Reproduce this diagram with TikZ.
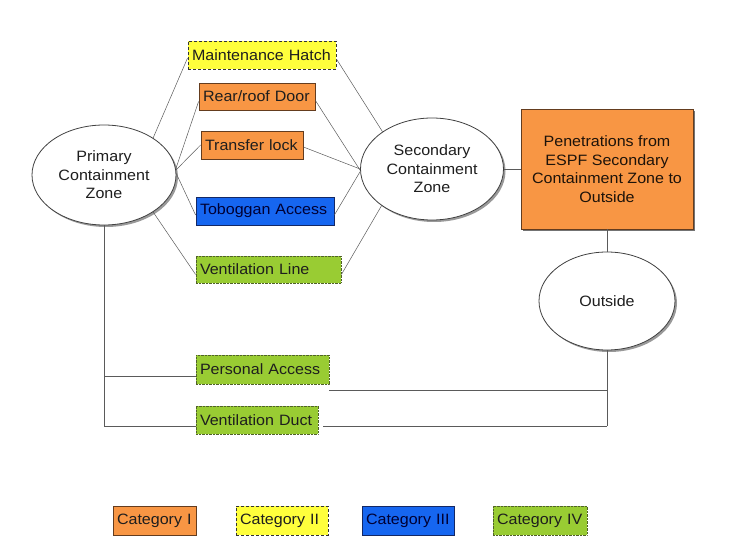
\documentclass[tikz,border=0pt]{standalone}
\usepackage{fontspec}
\setmainfont{Liberation Sans}[FakeStretch=1.07]
\usetikzlibrary{shapes.geometric}
\definecolor{orfill}{RGB}{248,150,68}
\definecolor{ordraw}{RGB}{100,60,30}
\definecolor{yefill}{RGB}{255,255,60}
\definecolor{blfill}{RGB}{22,102,240}
\definecolor{bldraw}{RGB}{20,40,100}
\definecolor{grfill}{RGB}{153,204,51}
\definecolor{grdraw}{RGB}{80,98,40}
\definecolor{txt}{RGB}{30,30,30}
\definecolor{ln}{RGB}{90,90,90}
\tikzset{
  every node/.style={font=\fontsize{15}{18.5}\selectfont, text=txt, align=center, inner sep=0pt},
  zone/.style={ellipse, draw=black!75, line width=0.8pt, fill=white},
  zshadow/.style={fill=black!40},
  lbox/.style={text width=#1, align=left, inner xsep=4pt, inner ysep=0pt},
  catone/.style={rectangle, draw=ordraw, line width=0.8pt, fill=orfill},
  cattwo/.style={rectangle, draw=black!80, line width=0.9pt, dash pattern=on 3pt off 2pt, fill=yefill},
  catthree/.style={rectangle, draw=bldraw, line width=0.8pt, fill=blfill, text=black!80!blue},
  catfour/.style={rectangle, draw=grdraw, line width=0.8pt, dash pattern=on 0.7pt off 0.7pt, fill=grfill},
  conn/.style={draw=ln, line width=0.5pt},
  trunk/.style={draw=ln, line width=0.9pt}
}
\begin{document}
\begin{tikzpicture}[x=1pt,y=-1pt]
\useasboundingbox (0,0) rectangle (732,548);
% shadows of the zones
\fill[zshadow] (106,177) ellipse [x radius=72, y radius=50];
\fill[zshadow] (434,171) ellipse [x radius=71.5, y radius=51];
\fill[zshadow] (609,303) ellipse [x radius=68, y radius=49];
\fill[black!55] (523,111) rectangle (695,231);
% zones
\node[zone, minimum width=144pt, minimum height=100pt] (prim) at (104,175) {Primary\\Containment\\Zone};
\node[zone, minimum width=143pt, minimum height=102pt] (sec) at (432,169) {Secondary\\Containment\\Zone};
\node[zone, minimum width=136pt, minimum height=98pt] (out) at (607,301) {Outside};
% penetrations
\node[catone, minimum width=172pt, minimum height=120pt] (pen) at (607,169) {};
\node[text=black!85!brown] (pent) at (pen.center) {Penetrations from\\ESPF Secondary\\Containment Zone to\\Outside};
% middle boxes
\node[cattwo, lbox=140pt, minimum height=28pt] (mh) at (262,55) {Maintenance Hatch};
\node[catone, lbox=108pt, minimum height=27pt] (rr) at (257,96.5) {Rear/roof Door};
\node[catone, lbox=94pt, minimum height=28pt] (tl) at (252,145) {Transfer lock};
\node[catthree, lbox=130pt, minimum height=28pt] (ta) at (265,211) {Toboggan Access};
\node[catfour, lbox=137pt, minimum height=27pt] (vl) at (268.5,269.5) {Ventilation Line};
\node[catfour, lbox=125pt, minimum height=29pt] (pa) at (262.5,369.5) {Personal Access};
\node[catfour, lbox=114pt, minimum height=28pt] (vd) at (257,420) {Ventilation Duct};
% legend
\node[catone, lbox=75pt, minimum height=29pt] (c1) at (154.5,520.5) {Category I};
\node[cattwo, lbox=84pt, minimum height=29pt] (c2) at (282,520.5) {Category II};
\node[catthree, lbox=84pt, minimum height=29pt] (c3) at (408,520.5) {Category III};
\node[catfour, lbox=86pt, minimum height=29pt] (c4) at (540,520.5) {Category IV};
% connectors primary -> boxes
\draw[conn] (prim.37) -- ([yshift=-3pt]mh.west);
\draw[conn] (prim.5) -- ([yshift=-5pt]rr.west);
\draw[conn] (prim.4) -- (tl.west);
\draw[conn] (prim.1) -- ([yshift=-4pt]ta.west);
\draw[conn] (prim.-37) -- ([yshift=-5pt]vl.west);
% boxes -> secondary
\draw[conn] ([yshift=-4pt]mh.east) -- (sec.143);
\draw[conn] ([yshift=-4pt]rr.east) -- (sec.181);
\draw[conn] ([yshift=-2pt]tl.east) -- (sec.180);
\draw[conn] ([yshift=-4pt]ta.east) -- (sec.182);
\draw[conn] ([yshift=-5pt]vl.east) -- (sec.216);
% secondary -> penetrations -> outside
\draw[conn] (sec.east) -- (pen.west);
\draw[conn] (out.north) -- (out.north |- pen.south);
% lower routes
\coordinate (vdl) at ([yshift=-6pt]vd.west);
\coordinate (pal) at ([yshift=-6.5pt]pa.west);
\coordinate (par) at ([yshift=-6pt]pa.south east);
\coordinate (vdr) at ([xshift=5pt,yshift=-6pt]vd.east);
\draw[trunk] (prim.south) |- (vdl);
\draw[conn] (pal) -- (pal -| prim.south);
\draw[trunk] (out.south) -- (out.south |- vdr);
\draw[conn, line width=0.8pt] (par) -- (par -| out.south);
\draw[conn] (vdr) -- (vdr -| out.south);
\end{tikzpicture}
\end{document}
